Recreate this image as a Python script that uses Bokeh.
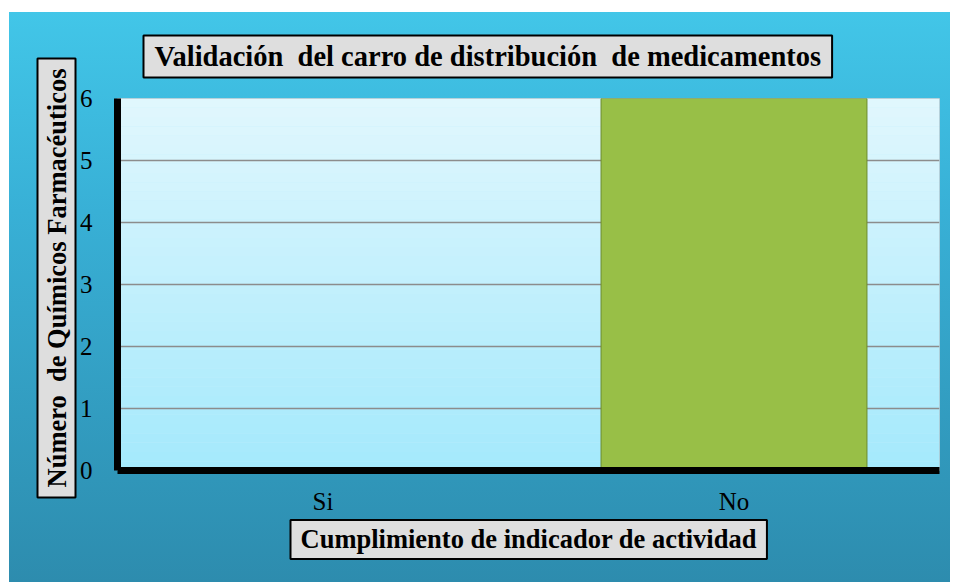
from bokeh.plotting import figure
from bokeh.models import Range1d, FactorRange, BoxAnnotation, FixedTicker, Title
from bokeh.embed import file_html
from bokeh.resources import INLINE

# ---- data ----
categories = ["Si", "No"]
values = [0, 6]
y_ticks = [0, 1, 2, 3, 4, 5, 6]

title_text = "Validación \u00a0del carro de distribución \u00a0de medicamentos"
x_title = "Cumplimiento de indicador de actividad"
y_title = "Número \u00a0de Químicos Farmacéuticos"

# ---- layout (page pixels) ----
PAGE_X0, PAGE_Y0 = 9, 12
W, H = 941, 570
FRAME_L, FRAME_R, FRAME_T, FRAME_B = 117, 939, 98, 470

p = figure(
    x_range=FactorRange(*categories),
    y_range=Range1d(y_ticks[0], y_ticks[-1]),
    width=W, height=H,
    output_backend="svg", toolbar_location=None,
    min_border_left=FRAME_L - PAGE_X0,
    min_border_right=PAGE_X0 + W - FRAME_R,
    min_border_top=FRAME_T - PAGE_Y0,
    min_border_bottom=PAGE_Y0 + H - FRAME_B,
    border_fill_color=None,
    background_fill_color="#c3effc",
)
p.styles = {
    "background": "linear-gradient(to bottom, #42c6e8 0%, #38b0d6 35%, #2d8cae 100%)",
    "margin-left": "%dpx" % PAGE_X0,
    "margin-top": "%dpx" % PAGE_Y0,
}
p.outline_line_color = "#a8c4cf"
p.outline_line_width = 1

# plot-area vertical gradient (decoration)
N = 40
top_rgb = (0xE1, 0xF7, 0xFD)
bot_rgb = (0xA4, 0xE9, 0xFC)
for k in range(N):
    t = (k + 0.5) / N
    c = tuple(int(round(bot_rgb[i] + (top_rgb[i] - bot_rgb[i]) * t)) for i in range(3))
    lo = y_ticks[0] + (y_ticks[-1] - y_ticks[0]) * k / N
    hi = y_ticks[0] + (y_ticks[-1] - y_ticks[0]) * (k + 1) / N
    p.add_layout(BoxAnnotation(bottom=lo, top=hi, fill_color="#%02x%02x%02x" % c,
                               fill_alpha=1, line_alpha=0, level="image"))

p.vbar(x=categories, top=values, width=0.647,
       fill_color="#98bf47", line_color="#6c8b2c", line_width=1)

# grid
p.xgrid.visible = False
p.ygrid.grid_line_color = "#8c8c8c"
p.ygrid.grid_line_width = 1.5
p.yaxis.ticker = FixedTicker(ticks=y_ticks)

for ax in (p.xaxis[0], p.yaxis[0]):
    ax.axis_line_color = "black"
    ax.axis_line_width = 7
    ax.major_tick_line_color = None
    ax.minor_tick_line_color = None
    ax.major_tick_out = 0
    ax.major_tick_in = 0
    ax.major_label_text_font = "Liberation Serif"
    ax.major_label_text_font_size = "25px"
    ax.major_label_text_color = "black"
p.yaxis.major_label_standoff = 25
p.xaxis.major_label_standoff = 17

box_style = dict(
    text_font="Liberation Serif", text_font_style="bold", text_color="black",
    background_fill_color="#dedede", background_fill_alpha=1,
    border_line_color="black", border_line_width=2,
)

p.title = Title(text=title_text, text_font_size="28.5px", align="left",
                offset=143 - FRAME_L, standoff=42,
                padding=dict(left=11, right=11, top=5, bottom=6), **box_style)
p.add_layout(Title(text=y_title, text_font_size="26.5px", align="left",
                   offset=FRAME_B - 497, standoff=2,
                   padding=dict(left=10, right=10, top=4, bottom=4), **box_style), "left")
p.add_layout(Title(text=x_title, text_font_size="26.5px", align="left",
                   offset=290 - FRAME_L, standoff=1,
                   padding=dict(left=10, right=10, top=4, bottom=5), **box_style), "below")

open("out.html", "w").write(file_html(p, INLINE))
